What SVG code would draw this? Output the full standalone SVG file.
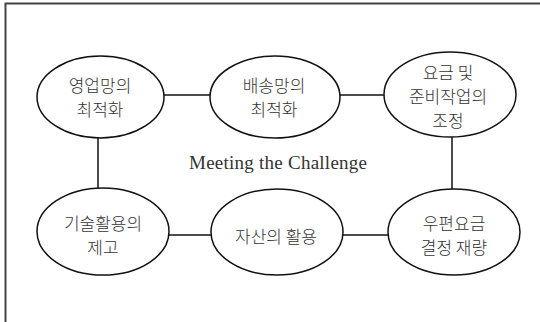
<svg xmlns="http://www.w3.org/2000/svg" width="540" height="322" viewBox="0 0 540 322">
<style>
.node ellipse{fill:#fff;stroke:#111;stroke-width:1.5}
.node text{font-family:"Noto Sans CJK KR","Liberation Serif",serif;font-size:17px;font-weight:300;fill:#333;text-anchor:middle;dominant-baseline:central}
.conn line{stroke:#111;stroke-width:1.5}
.title{font-family:"Liberation Serif",serif;font-size:19px;fill:#333;text-anchor:middle}
</style>
<rect width="540" height="322" fill="#fff"/>
<path d="M5.5 322 V3.5 H540" fill="none" stroke="#444" stroke-width="2"/>
<g class="conn">
<line x1="164" y1="95" x2="210" y2="95"/>
<line x1="340" y1="95" x2="384" y2="95"/>
<line x1="98" y1="137" x2="98" y2="189"/>
<line x1="452" y1="137" x2="452" y2="189"/>
<line x1="169" y1="235" x2="211" y2="235"/>
<line x1="343" y1="235" x2="388" y2="235"/>
</g>
<text class="title" x="278" y="169" textLength="178">Meeting the Challenge</text>
<g id="n1" class="node"><ellipse cx="100.5" cy="97" rx="63.5" ry="41"/><text x="100" y="84">영업망의</text><text x="100" y="108">최적화</text></g>
<g id="n2" class="node"><ellipse cx="275" cy="97" rx="65" ry="41"/><text x="274" y="84">배송망의</text><text x="274" y="108">최적화</text></g>
<g id="n3" class="node"><ellipse cx="450" cy="94.5" rx="66" ry="42.5"/><text x="448" y="71">요금 및</text><text x="448" y="95">준비작업의</text><text x="448" y="119">조정</text></g>
<g id="n4" class="node"><ellipse cx="103" cy="231.5" rx="66" ry="43.5"/><text x="103" y="222">기술활용의</text><text x="103" y="246">제고</text></g>
<g id="n5" class="node"><ellipse cx="277" cy="232" rx="66" ry="43"/><text x="276" y="235">자산의 활용</text></g>
<g id="n6" class="node"><ellipse cx="454" cy="232" rx="66" ry="43"/><text x="454" y="222">우편요금</text><text x="454" y="246">결정 재량</text></g>
</svg>
